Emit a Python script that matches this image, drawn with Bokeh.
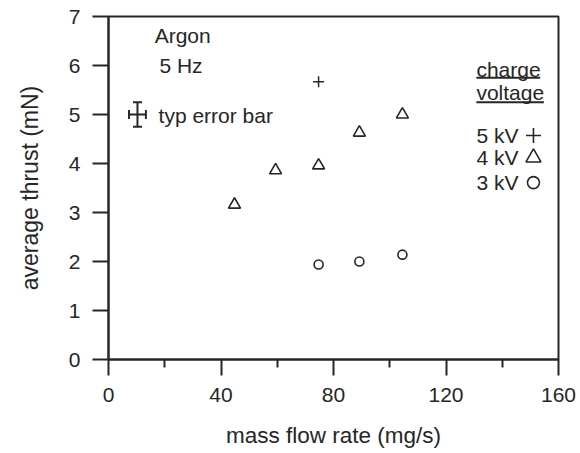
from bokeh.plotting import figure
from bokeh.models import Range1d, FixedTicker, Label, ColumnDataSource, Whisker, TeeHead
from bokeh.embed import file_html
from bokeh.resources import INLINE

# ---- data ----
flow_5kv = [74.7]
thrust_5kv = [5.67]
flow_4kv = [44.8, 59.4, 74.7, 89.2, 104.5]
thrust_4kv = [3.16, 3.86, 3.96, 4.63, 5.0]
flow_3kv = [74.7, 89.2, 104.5]
thrust_3kv = [1.94, 2.0, 2.14]

# typical error bar
err_x = [10.3]
err_y = [5.0]
err_dx = [3.0]
err_dy = [0.25]

x_ticks = [0, 40, 80, 120, 160]
x_minor = [20, 60, 100, 140]
y_ticks = [0, 1, 2, 3, 4, 5, 6, 7]

legend_labels = ["5 kV", "4 kV", "3 kV"]
legend_markers = ["cross", "triangle", "circle"]

FONT = "Liberation Sans"
FS = "21px"
INK = "#262626"

p = figure(width=580, height=453, output_backend="svg", toolbar_location=None,
           x_range=Range1d(0, 160), y_range=Range1d(0, 7),
           min_border_left=108, min_border_right=22, min_border_top=16, min_border_bottom=94)
p.grid.visible = False
p.outline_line_color = INK
p.outline_line_width = 2
p.background_fill_color = "white"
p.border_fill_color = "white"

p.xaxis.ticker = FixedTicker(ticks=x_ticks, minor_ticks=x_minor)
p.yaxis.ticker = FixedTicker(ticks=y_ticks, minor_ticks=[])
p.xaxis.axis_label = "mass flow rate (mg/s)"
p.yaxis.axis_label = "average thrust (mN)"

for ax in (p.xaxis[0], p.yaxis[0]):
    ax.axis_line_color = INK
    ax.axis_line_width = 2
    ax.major_tick_line_color = INK
    ax.major_tick_line_width = 2
    ax.minor_tick_line_color = INK
    ax.minor_tick_line_width = 2
    ax.major_tick_out = 16
    ax.major_tick_in = 0
    ax.minor_tick_out = 8
    ax.minor_tick_in = 0
    ax.major_label_text_font = FONT
    ax.major_label_text_font_size = FS
    ax.major_label_text_color = INK
    ax.axis_label_text_font = FONT
    ax.axis_label_text_font_style = "normal"
    ax.axis_label_text_color = INK
    ax.major_label_standoff = 12

p.xaxis.axis_label_text_font_size = "22.5px"
p.yaxis.axis_label_text_font_size = "23px"
p.xaxis.axis_label_standoff = 18
p.yaxis.axis_label_standoff = 23

# ---- data markers ----
p.scatter(flow_5kv, thrust_5kv, marker="cross", size=11, line_color=INK, line_width=1.5)
p.scatter(flow_4kv, thrust_4kv, marker="triangle", size=12, line_color=INK,
          fill_color=None, line_width=1.6)
p.scatter(flow_3kv, thrust_3kv, marker="circle", size=9, line_color=INK,
          fill_color=None, line_width=1.6)

# ---- typical error bar ----
src = ColumnDataSource(dict(
    x=err_x, y=err_y,
    xl=[a - b for a, b in zip(err_x, err_dx)], xu=[a + b for a, b in zip(err_x, err_dx)],
    yl=[a - b for a, b in zip(err_y, err_dy)], yu=[a + b for a, b in zip(err_y, err_dy)],
))
p.add_layout(Whisker(source=src, base="x", lower="yl", upper="yu", dimension="height",
                     line_color=INK, line_width=2,
                     upper_head=TeeHead(size=9, line_color=INK, line_width=2),
                     lower_head=TeeHead(size=9, line_color=INK, line_width=2)))
p.add_layout(Whisker(source=src, base="y", lower="xl", upper="xu", dimension="width",
                     line_color=INK, line_width=2,
                     upper_head=TeeHead(size=9, line_color=INK, line_width=2),
                     lower_head=TeeHead(size=9, line_color=INK, line_width=2)))


def lab(x, y, t):
    p.add_layout(Label(x=x, y=y, text=t, text_font=FONT, text_font_size=FS,
                       text_color=INK, text_baseline="middle", text_align="left"))


lab(16.4, 6.61, "Argon")
lab(18.1, 6.0, "5 Hz")
lab(17.8, 4.98, "typ error bar")

# ---- legend block ----
lab(130.8, 5.92, "charge")
lab(130.8, 5.44, "voltage")
p.segment(x0=[130.8, 130.8], y0=[5.75, 5.25], x1=[153.5, 154.8], y1=[5.75, 5.25],
          line_color=INK, line_width=2)

leg_y = [4.57, 4.12, 3.61]
leg_sizes = [15, 15, 12]
for t, m, yy, s in zip(legend_labels, legend_markers, leg_y, leg_sizes):
    lab(130.8, yy, t)
    p.scatter([151.1], [yy], marker=m, size=s, line_color=INK, fill_color=None, line_width=1.6)

open("out.html", "w").write(file_html(p, INLINE))
